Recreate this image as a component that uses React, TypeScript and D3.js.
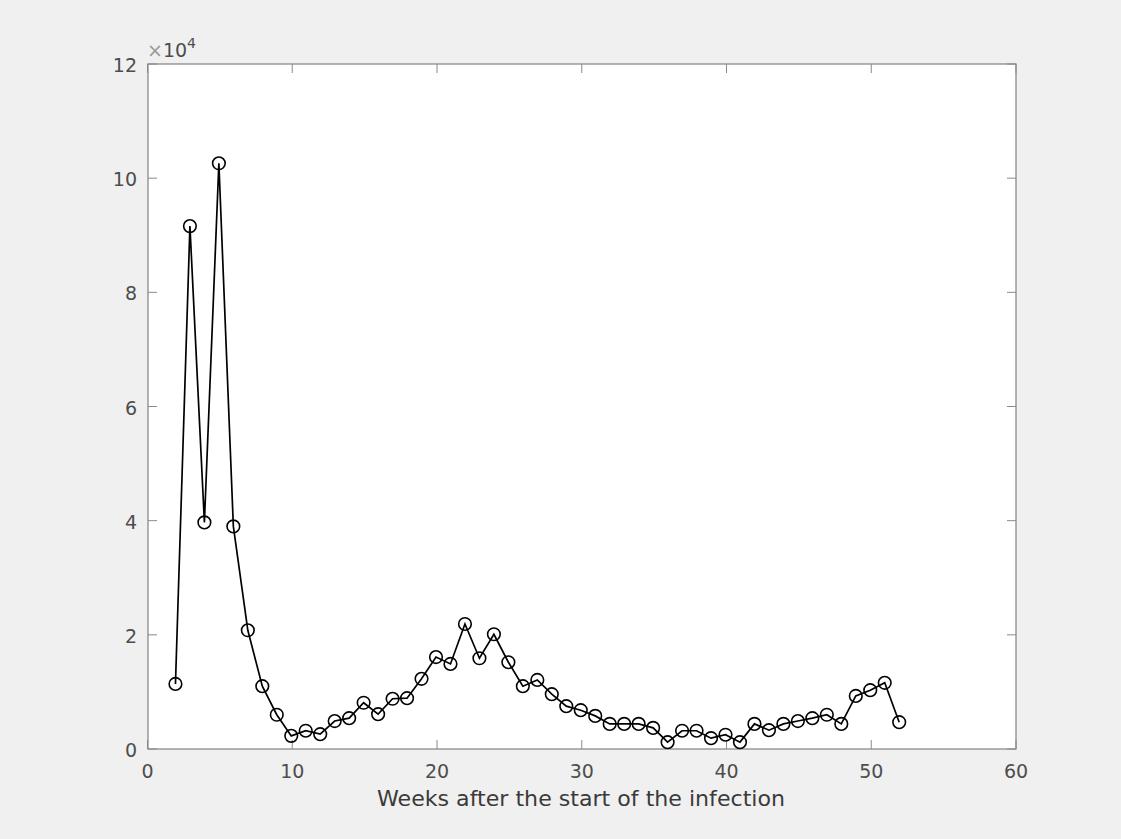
import React from 'react'
import * as d3 from 'd3'

const weeks = [2, 3, 4, 5, 6, 7, 8, 9, 10, 11, 12, 13, 14, 15, 16, 17, 18, 19, 20, 21, 22, 23, 24, 25, 26, 27,
  28, 29, 30, 31, 32, 33, 34, 35, 36, 37, 38, 39, 40, 41, 42, 43, 44, 45, 46, 47, 48, 49, 50, 51, 52]
const cases = [11400, 91600, 39700, 102600, 39000, 20800, 11000, 6000, 2300, 3200, 2600, 4900, 5400, 8100,
  6100, 8800, 8900, 12300, 16100, 14900, 21900, 15900, 20100, 15200, 11000, 12100, 9600, 7500, 6800, 5800,
  4400, 4400, 4400, 3700, 1200, 3200, 3200, 1900, 2500, 1200, 4400, 3300, 4400, 4900, 5400, 6000, 4400,
  9300, 10300, 11600, 4700]
const xTicks = [0, 10, 20, 30, 40, 50, 60]
const yTicks = [0, 20000, 40000, 60000, 80000, 100000, 120000]

const W = 1121
const H = 839
const left = 148, right = 1016, top = 64, bottom = 749
const tickLen = 9
const axisColor = '#8a8a8a'
const textColor = '#4d4d4d'
const font = 'DejaVu Sans, sans-serif'

export default function App() {
  const x = d3.scaleLinear().domain([0, 60]).range([left - 0.5, right])
  const y = d3.scaleLinear().domain([0, 120000]).range([bottom, top])
  const pts = weeks.map((w, i) => [w, cases[i]] as [number, number])
  const line = d3.line<[number, number]>().x(d => x(d[0]) - 1).y(d => y(d[1]))

  return (
    <svg width={W} height={H} style={{ position: 'fixed', left: 0, top: 0 }}>
      <rect width={W} height={H} fill="#f0f0f0" />
      <rect x={left} y={top} width={right - left} height={bottom - top} fill="#fff" />
      {/* ticks on all four sides, matlab style */}
      {xTicks.map(t => (
        <g key={'x' + t}>
          <line x1={x(t)} x2={x(t)} y1={bottom} y2={bottom - tickLen} stroke={axisColor} />
          <line x1={x(t)} x2={x(t)} y1={top} y2={top + tickLen} stroke={axisColor} />
          <text x={x(t)} y={bottom + 29} textAnchor="middle" fontSize={19} fontFamily={font} fill={textColor}>{t}</text>
        </g>
      ))}
      {yTicks.map(t => (
        <g key={'y' + t}>
          <line x1={left} x2={left + tickLen} y1={y(t)} y2={y(t)} stroke={axisColor} />
          <line x1={right} x2={right - tickLen} y1={y(t)} y2={y(t)} stroke={axisColor} />
          <text x={left - 11} y={y(t) + 8} textAnchor="end" fontSize={19} fontFamily={font} fill={textColor}>{t / 10000}</text>
        </g>
      ))}
      <rect x={left} y={top} width={right - left} height={bottom - top} fill="none" stroke={axisColor} strokeWidth={1.3} />
      <text x={left - 1} y={top - 7} fontSize={19} fontFamily={font} fill={textColor}>
        <tspan fill="#999">×</tspan>10<tspan dy={-9} fontSize={14}>4</tspan>
      </text>
      <path d={line(pts) ?? ''} fill="none" stroke="#000" strokeWidth={1.7} />
      {pts.map((p, i) => (
        <circle key={i} cx={x(p[0]) - 1} cy={y(p[1])} r={6.3} fill="none" stroke="#000" strokeWidth={1.6} />
      ))}
      <text x={(left + right) / 2 - 1} y={806} textAnchor="middle" fontSize={21.5} fontFamily={font} fill="#3a3a3a"
        textLength={408} lengthAdjust="spacingAndGlyphs">
        Weeks after the start of the infection
      </text>
    </svg>
  )
}
